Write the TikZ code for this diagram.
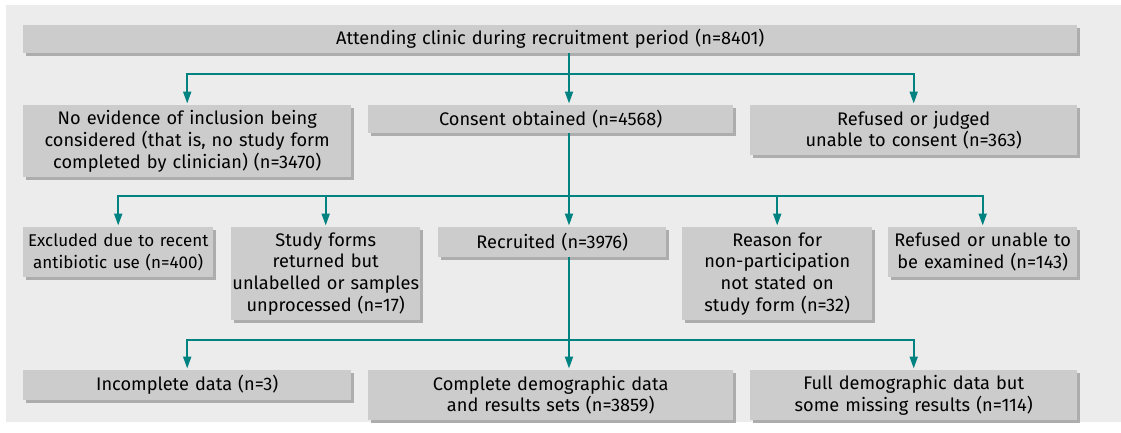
\documentclass[tikz,border=0pt]{standalone}
\usepackage{fontspec}
\setmainfont{Fira Sans}[WordSpace=0.75]
\usepackage{tikz}
\usetikzlibrary{arrows.meta,shadows}
\definecolor{panelgrey}{rgb}{0.925, 0.925, 0.925}
\definecolor{boxgrey}{rgb}{0.80, 0.80, 0.80}
\definecolor{shadegrey}{rgb}{0.68, 0.68, 0.68}
\definecolor{flowteal}{rgb}{0.0, 0.51, 0.50}

\begin{document}
\begin{tikzpicture}[x=1pt, y=-1pt,
        box/.style={fill=boxgrey, anchor=north west, align=center, inner sep=0pt,
            font=\fontsize{18.2}{21.7}\selectfont,
            drop shadow={shadow xshift=2.5pt, shadow yshift=-2.5pt, fill=shadegrey, opacity=1}},
        flow/.style={draw=flowteal, line width=2pt, -{Triangle[width=8pt,length=12pt]}, shorten >=1.5pt}
    ]
        \useasboundingbox (0,0) rectangle (1121,432);
        \fill[panelgrey] (6,5) rectangle (1121,422);
        % Boxes
        \node[box, text width=1054pt, minimum height=28pt] (attend) at (23,25) {Attending clinic during recruitment period (n=8401)};
        \node[box, text width=328pt, minimum height=72pt] (noev) at (23,105) {No evidence of inclusion being\\considered (that is, no study form\\completed by clinician) (n=3470)};
        \node[box, text width=365pt, minimum height=28pt] (consent) at (368,105) {Consent obtained (n=4568)};
        \node[box, text width=327pt, minimum height=50pt] (refcons) at (750,105) {Refused or judged\\unable to consent (n=363)};
        \node[box, text width=190pt, minimum height=50pt, font=\fontsize{17}{21.7}\selectfont] (excl) at (23,227) {Excluded due to recent\\antibiotic use (n=400)};
        \node[box, text width=189pt, minimum height=93pt] (forms) at (231,227) {Study forms\\returned but\\unlabelled or samples\\unprocessed (n=17)};
        \node[box, text width=228pt, minimum height=30pt] (recr) at (438,227) {Recruited (n=3976)};
        \node[box, text width=190pt, minimum height=93pt] (reason) at (682,227) {Reason for\\non-participation\\not stated on\\study form (n=32)};
        \node[box, text width=189pt, minimum height=50pt] (refexam) at (888,227) {Refused or unable to\\be examined (n=143)};
        \node[box, text width=328pt, minimum height=30pt] (incompl) at (23,370) {Incomplete data (n=3)};
        \node[box, text width=365pt, minimum height=50pt] (compl) at (368,370) {Complete demographic data\\and results sets (n=3859)};
        \node[box, text width=327pt, minimum height=50pt] (full) at (750,370) {Full demographic data but\\some missing results (n=114)};
        % Branch points on the trunk
        \coordinate (b1) at (569,74);
        \coordinate (b2) at (569,196);
        \coordinate (b3) at (569,340);
        % Draw connectors
        \draw[flow] (attend.south -| b1) -- (consent.north -| b1);
        \draw[flow] (b1) -| (noev.north);
        \draw[flow] (b1) -| (refcons.north);
        \draw[flow] (consent.south -| b2) -- (recr.north -| b2);
        \draw[flow] (b2) -| (excl.north);
        \draw[flow] (b2) -| (forms.north);
        \draw[flow] (b2) -| (reason.north);
        \draw[flow] (b2) -| (refexam.north);
        \draw[flow] (recr.south -| b3) -- (compl.north -| b3);
        \draw[flow] (b3) -| (incompl.north);
        \draw[flow] (b3) -| (full.north);
    \end{tikzpicture}
\end{document}
